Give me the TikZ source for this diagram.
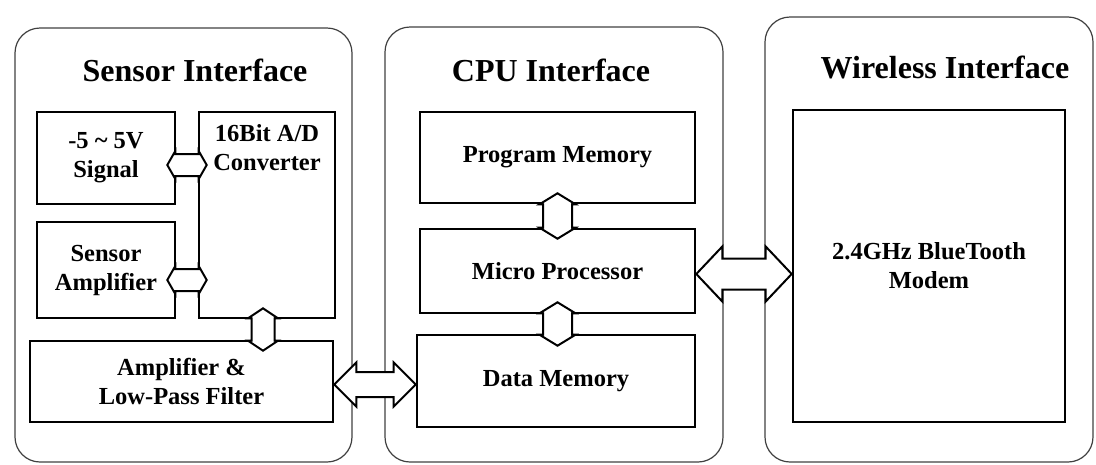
\documentclass[tikz,border=0pt]{standalone}
\usepackage{fontspec}
\setmainfont{Liberation Serif}
\usetikzlibrary{calc}

% block arrow with a head at each end: left anchor, right anchor,
% half shaft, half head, head length, overlap into the boxes
\newcommand{\hbus}[6]{%
  \draw[bus] let \p1=(#1), \p2=(#2) in
    (\x1-#6,\y1) -- (\x1-#6+#5,\y1+#4) -- (\x1-#6+#5,\y1+#3)
    -- (\x2+#6-#5,\y1+#3) -- (\x2+#6-#5,\y1+#4) -- (\x2+#6,\y1)
    -- (\x2+#6-#5,\y1-#4) -- (\x2+#6-#5,\y1-#3)
    -- (\x1-#6+#5,\y1-#3) -- (\x1-#6+#5,\y1-#4) -- cycle;}
% same, upright: top anchor, bottom anchor
\newcommand{\vbus}[6]{%
  \draw[bus] let \p1=(#1), \p2=(#2) in
    (\x1,\y1+#6) -- (\x1+#4,\y1+#6-#5) -- (\x1+#3,\y1+#6-#5)
    -- (\x1+#3,\y2-#6+#5) -- (\x1+#4,\y2-#6+#5) -- (\x1,\y2-#6)
    -- (\x1-#4,\y2-#6+#5) -- (\x1-#3,\y2-#6+#5)
    -- (\x1-#3,\y1+#6-#5) -- (\x1-#4,\y1+#6-#5) -- cycle;}

\begin{document}
\begin{tikzpicture}[x=1pt,y=-1pt,
	panel/.style={draw=black!75,line width=1.2pt,rounded corners=25pt},
	title/.style={font=\fontsize{32}{36}\selectfont\bfseries,anchor=base},
	box node/.style={draw,line width=2.6pt,align=center,inner sep=0pt,font=\fontsize{24.5}{29}\selectfont\bfseries},
	box text/.style={align=center,inner sep=0pt,font=\fontsize{24.5}{29}\selectfont\bfseries},
	bus/.style={draw,fill=white,line width=2pt,line join=miter}]
	\useasboundingbox (0,0) rectangle (1096,464);

	% the three interfaces
	\draw[panel] (15,28) rectangle (352,462);
	\draw[panel] (385,27) rectangle (723,462);
	\draw[panel] (765,17) rectangle (1093,462);

	\node[title] at (195,81) (sensorttl) {Sensor Interface};
	\node[title] at (551,81) (cputtl) {CPU Interface};
	\node[title] at (945,78) (wirelessttl) {Wireless Interface};

	% sensor interface
	\node[box node,minimum width=138pt,minimum height=92pt] at (106,158) (sig) {-5 \textasciitilde{} 5V\\Signal};
	\node[box node,minimum width=138pt,minimum height=96pt] at (106,270) (amp) {Sensor\\Amplifier};
	\node[box node,minimum width=136pt,minimum height=206pt] at (267,215) (adc) {};
	\node[box text,anchor=north] at ([yshift=-14pt]adc.north) (adctxt) {16Bit A/D\\Converter};
	\node[box node,minimum width=303pt,minimum height=81pt] at (181.5,381.5) (lpf) {Amplifier \&\\Low-Pass Filter};

	% cpu interface
	\node[box node,minimum width=275pt,minimum height=91pt] at (557.5,157.5) (pm) {Program Memory};
	\node[box node,minimum width=275pt,minimum height=84pt] at (557.5,271) (mp) {Micro Processor};
	\node[box node,minimum width=278pt,minimum height=92pt] at (556,381) (dm) {Data Memory};

	% wireless interface
	\node[box node,minimum width=272pt,minimum height=312pt] at (929,266) (modem) {2.4GHz BlueTooth\\Modem};

	% buses
	\hbus{[yshift=-7pt]sig.east}{adc.west}{11pt}{14pt}{8pt}{9pt}
	\hbus{[yshift=-10pt]amp.east}{adc.west}{11pt}{14pt}{8pt}{9pt}
	\vbus{[xshift=-4pt]adc.south}{lpf.north}{11.5pt}{15pt}{10pt}{11pt}
	\vbus{pm.south}{mp.north}{14.5pt}{18pt}{11pt}{11pt}
	\vbus{mp.south}{dm.north}{14.5pt}{18pt}{11pt}{12pt}
	\hbus{[yshift=-3pt]lpf.east}{dm.west}{12.5pt}{22pt}{22pt}{0pt}
	\hbus{[yshift=-3pt]mp.east}{modem.west}{15.5pt}{27.5pt}{26pt}{0pt}
\end{tikzpicture}
\end{document}
